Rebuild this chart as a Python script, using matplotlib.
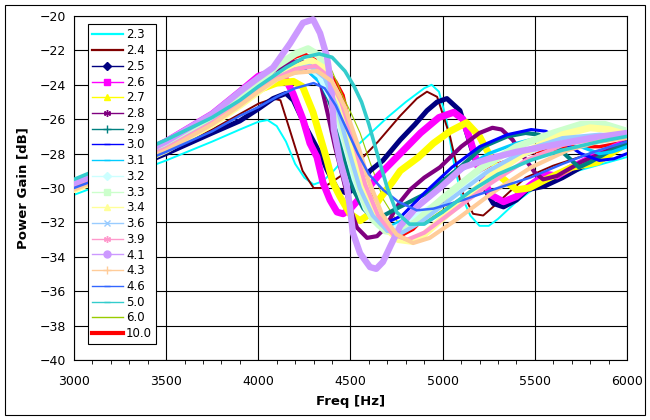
import matplotlib
matplotlib.use("Agg")
import matplotlib.pyplot as plt
from matplotlib.lines import Line2D
from matplotlib.patches import Rectangle

# ---- data (Freq [Hz], Power Gain [dB]) ----
f23 = [3000,3250,3500,3750,3900,4000,4050,4100,4150,4200,4250,4300,4350,4400,4500,4600,4700,4800,4900,4940,4980,5020,5060,5100,5150,5200,5250,5300,5400,5500,5600,5800,6000]
g23 = [-30.4,-29.4,-28.4,-27.3,-26.6,-26.15,-26.05,-26.4,-27.3,-28.6,-29.4,-29.8,-29.6,-29.1,-27.9,-26.9,-25.9,-25.0,-24.2,-24.0,-24.4,-26.0,-28.5,-30.4,-31.6,-32.2,-32.2,-31.8,-30.8,-30.0,-29.4,-28.8,-28.2]

f24 = [3000,3250,3500,3750,3900,4000,4080,4120,4170,4240,4300,4350,4420,4515,4650,4770,4860,4915,4970,5040,5110,5165,5220,5295,5365,5450,5600,5800,6000]
g24 = [-30.0,-29.0,-27.9,-26.6,-25.7,-25.1,-24.8,-24.9,-26.6,-29.0,-30.0,-30.0,-29.5,-28.8,-27.3,-25.8,-24.8,-24.4,-24.7,-27.0,-30.3,-31.5,-31.6,-30.9,-30.2,-29.4,-28.7,-28.0,-27.4]

f25 = [3000,3250,3500,3750,3900,4000,4080,4150,4190,4260,4335,4375,4430,4480,4535,4606,4676,4770,4850,4915,4970,5023,5094,5148,5220,5275,5330,5400,5460,5550,5650,5800,6000]
g25 = [-30.0,-29.1,-28.0,-26.8,-26.1,-25.4,-24.8,-24.5,-24.9,-26.5,-28.0,-29.0,-30.1,-30.3,-30.0,-29.0,-28.4,-27.2,-26.3,-25.5,-25.0,-24.8,-25.5,-27.4,-29.9,-30.9,-31.1,-30.7,-30.1,-29.9,-29.4,-28.5,-27.5]

f26 = [3000,3250,3500,3750,3900,4000,4060,4100,4150,4188,4242,4280,4318,4351,4389,4427,4460,4500,4550,4650,4770,4880,4980,5060,5110,5150,5200,5260,5330,5400,5480,5560,5620,5700,5850,6000]
g26 = [-29.7,-28.6,-27.3,-25.7,-24.4,-23.5,-23.3,-23.3,-23.7,-24.5,-26.0,-27.4,-28.2,-29.7,-30.7,-31.4,-31.5,-31.2,-30.6,-29.3,-28.0,-26.8,-25.9,-25.6,-26.0,-27.2,-29.0,-30.4,-30.8,-30.5,-29.8,-29.2,-29.3,-28.8,-28.0,-27.3]

f27 = [3000,3250,3500,3750,3900,4000,4100,4190,4240,4297,4335,4373,4405,4443,4497,4552,4606,4660,4731,4770,4870,4950,5040,5130,5200,5260,5320,5400,5470,5560,5700,5840,6000]
g27 = [-29.9,-28.8,-27.6,-26.1,-25.0,-24.3,-23.9,-23.8,-24.1,-25.6,-27.0,-28.4,-29.7,-30.5,-31.5,-31.9,-31.5,-30.6,-29.6,-29.0,-28.2,-27.4,-26.7,-26.2,-27.0,-28.2,-29.4,-30.1,-30.0,-29.5,-28.8,-28.5,-27.4]

f28 = [3000,3250,3500,3750,3900,4000,4100,4180,4230,4300,4340,4375,4416,4459,4497,4535,4590,4644,4690,4740,4770,4823,4900,4985,5100,5200,5270,5320,5380,5440,5500,5545,5620,5750,5880,6000]
g28 = [-29.8,-28.7,-27.5,-26.0,-24.9,-24.1,-23.2,-22.7,-22.6,-23.0,-24.0,-25.6,-27.6,-29.4,-31.1,-32.3,-32.9,-32.8,-32.3,-31.3,-30.8,-30.1,-29.4,-28.8,-27.6,-26.8,-26.5,-26.6,-27.2,-28.2,-29.1,-29.5,-29.3,-28.5,-27.9,-27.3]

f29 = [3000,3250,3500,3750,3900,4000,4100,4200,4260,4320,4380,4420,4470,4520,4570,4620,4680,4750,4840,4932,5010,5094,5220,5350,5450,5520,5600,5690,5740,5800,5900,6000]
g29 = [-29.6,-28.5,-27.4,-26.0,-25.0,-24.3,-23.5,-23.0,-22.9,-23.4,-24.8,-26.0,-28.5,-30.2,-31.2,-31.7,-31.6,-31.2,-30.7,-30.2,-29.5,-28.8,-27.6,-27.0,-26.8,-26.9,-27.4,-28.3,-28.8,-28.5,-27.9,-27.4]

f30 = [3000,3250,3500,3750,3900,4000,4100,4200,4260,4330,4400,4460,4520,4580,4640,4700,4780,4900,5050,5200,5350,5480,5560,5650,5750,5850,5930,6000]
g30 = [-29.8,-28.8,-27.6,-26.2,-25.1,-24.4,-23.6,-23.2,-23.1,-23.8,-25.0,-26.8,-28.8,-30.5,-31.6,-32.0,-31.6,-30.3,-28.8,-27.6,-26.9,-26.6,-26.7,-27.3,-28.0,-28.4,-28.3,-28.0]

f31 = [3000,3250,3500,3750,3900,4000,4100,4200,4270,4340,4410,4470,4530,4590,4650,4720,4800,4920,5080,5250,5400,5550,5650,5750,5850,5920,6000]
g31 = [-29.7,-28.7,-27.5,-26.1,-25.0,-24.3,-23.6,-23.3,-23.2,-23.9,-25.3,-27.2,-29.2,-30.8,-31.8,-32.2,-31.8,-30.6,-29.1,-28.0,-27.4,-27.0,-27.1,-27.6,-28.0,-27.9,-27.6]

f32 = [3000,3250,3500,3750,3900,4000,4100,4180,4250,4330,4400,4460,4520,4580,4650,4720,4800,4950,5100,5300,5500,5650,5750,5850,6000]
g32 = [-29.8,-28.7,-27.5,-26.0,-24.9,-24.1,-23.4,-23.0,-22.8,-23.5,-25.0,-27.2,-29.5,-31.2,-32.2,-32.4,-32.0,-31.0,-29.9,-28.7,-27.8,-27.2,-27.4,-27.3,-27.0]

f33 = [3000,3250,3500,3750,3900,4000,4100,4200,4270,4330,4390,4443,4500,4560,4620,4690,4760,4850,5000,5200,5400,5600,5750,5880,6000]
g33 = [-29.7,-28.6,-27.4,-25.9,-24.8,-23.9,-22.9,-22.2,-21.9,-22.3,-24.2,-26.0,-28.3,-30.4,-31.8,-32.5,-32.6,-32.0,-30.6,-28.9,-27.6,-26.8,-26.3,-26.3,-26.7]

f34 = [3000,3250,3500,3750,3900,4000,4100,4200,4290,4350,4420,4480,4540,4600,4680,4760,4830,4900,5050,5250,5450,5650,5800,5900,6000]
g34 = [-30.1,-29.0,-27.8,-26.3,-25.2,-24.4,-23.6,-23.0,-22.6,-23.0,-24.5,-26.4,-28.6,-30.5,-32.2,-33.0,-33.1,-32.7,-31.3,-29.4,-27.9,-26.9,-26.5,-26.6,-26.9]

f36 = [3000,3250,3500,3750,3900,4000,4100,4200,4280,4360,4430,4490,4550,4620,4700,4780,4880,5050,5250,5450,5650,5850,6000]
g36 = [-29.9,-28.8,-27.7,-26.2,-25.1,-24.3,-23.6,-23.1,-22.9,-23.6,-25.4,-27.8,-30.0,-31.6,-32.5,-32.6,-32.0,-30.6,-29.0,-27.8,-27.1,-26.9,-27.0]

f39 = [3000,3250,3500,3750,3900,4000,4100,4200,4310,4380,4450,4520,4580,4650,4730,4810,4900,5050,5250,5450,5650,5850,6000]
g39 = [-30.0,-28.9,-27.7,-26.2,-25.1,-24.3,-23.6,-23.1,-22.9,-23.5,-25.0,-27.4,-29.8,-31.6,-32.7,-33.0,-32.6,-31.4,-29.8,-28.4,-27.5,-27.1,-27.0]

f41 = [3000,3250,3500,3750,3900,4000,4080,4172,4242,4297,4335,4373,4395,4410,4443,4481,4497,4513,4552,4606,4640,4676,4720,4770,4860,4985,5110,5250,5400,5600,5800,6000]
g41 = [-29.7,-28.6,-27.3,-25.7,-24.4,-23.6,-23.0,-21.6,-20.4,-20.2,-21.0,-22.4,-24.0,-26.6,-28.4,-29.9,-31.1,-32.6,-33.8,-34.6,-34.7,-34.3,-33.3,-32.2,-31.1,-30.0,-28.8,-28.3,-27.9,-27.5,-27.1,-26.8]

f43 = [3000,3250,3500,3750,3900,4000,4100,4200,4320,4400,4470,4540,4600,4670,4750,4840,4930,5080,5280,5480,5680,5850,6000]
g43 = [-30.1,-29.0,-27.8,-26.3,-25.2,-24.4,-23.7,-23.3,-23.2,-23.8,-25.3,-27.5,-29.6,-31.5,-32.7,-33.2,-32.9,-31.8,-30.2,-28.8,-27.8,-27.3,-27.1]

f46 = [3000,3250,3500,3750,3900,4000,4100,4200,4300,4360,4420,4480,4540,4600,4676,4760,4860,4950,5110,5300,5474,5650,5820,6000]
g46 = [-30.0,-29.0,-27.9,-26.7,-25.8,-25.3,-24.7,-24.2,-23.9,-24.2,-25.2,-26.6,-28.0,-29.2,-30.1,-30.8,-31.3,-31.2,-30.7,-30.0,-29.4,-28.6,-27.9,-27.3]

f50 = [3000,3250,3500,3750,3900,4000,4150,4250,4330,4400,4470,4520,4560,4600,4650,4700,4750,4820,4900,5000,5150,5300,5474,5650,5850,6000]
g50 = [-29.5,-28.4,-27.2,-25.9,-24.9,-24.1,-23.0,-22.4,-22.2,-22.4,-23.2,-24.1,-25.0,-26.3,-28.2,-30.0,-31.4,-32.1,-32.1,-31.4,-30.2,-29.2,-28.4,-27.8,-27.3,-27.0]

f60 = [3000,3250,3500,3750,3900,4000,4150,4250,4340,4400,4460,4510,4552,4606,4680,4750,4820,4900,5050,5250,5450,5650,5850,6000]
g60 = [-29.9,-28.8,-27.6,-26.1,-25.0,-24.2,-23.3,-22.7,-22.6,-23.2,-24.7,-25.8,-26.8,-28.5,-30.7,-31.9,-32.3,-32.0,-30.9,-29.5,-28.5,-27.8,-27.4,-27.1]

f100 = [3000,3250,3500,3750,3900,4000,4100,4200,4250,4335,4420,4460,4500,4540,4600,4660,4714,4770,4840,4950,5100,5300,5500,5700,5850,6000]
g100 = [-29.8,-28.7,-27.5,-26.0,-24.9,-23.9,-23.0,-22.4,-22.2,-22.7,-23.8,-24.6,-26.5,-28.5,-30.2,-31.5,-32.5,-32.8,-32.4,-31.2,-29.8,-28.6,-27.9,-27.6,-27.6,-27.3]

labels = ["2.3","2.4","2.5","2.6","2.7","2.8","2.9","3.0","3.1","3.2","3.3",
          "3.4","3.6","3.9","4.1","4.3","4.6","5.0","6.0","10.0"]
freqs = [f23,f24,f25,f26,f27,f28,f29,f30,f31,f32,f33,f34,f36,f39,f41,f43,f46,f50,f60,f100]
gains = [g23,g24,g25,g26,g27,g28,g29,g30,g31,g32,g33,g34,g36,g39,g41,g43,g46,g50,g60,g100]

# Excel-like styles: colour, band width (pt), legend marker, marker size
colors = ["#00FFFF","#800000","#000080","#FF00FF","#FFFF00","#800080","#008080","#0000FF",
          "#00CCFF","#CCFFFF","#CCFFCC","#FFFF99","#99CCFF","#FF99CC","#CC99FF","#FFCC99",
          "#3366FF","#33CCCC","#99CC00","#FF0000"]
widths = [1.4,1.4,3.6,5.0,5.0,3.0,3.0,2.2,2.4,3.6,5.0,5.0,3.0,3.0,4.6,3.0,1.8,2.6,0.8,2.4]
markers = [None,None,"D","s","^",(6,2,0),"+","_","_","D","s","^","x",(6,2,0),"o","+","_","_",None,None]
msizes = [0,0,4,5,5,5,6,5,5,4,5,5,4,5,5,6,5,5,0,0]

fig = plt.figure(figsize=(6.5, 4.2), dpi=100)
fig.patches.append(Rectangle((0.008, 0.012), 0.984, 0.976, transform=fig.transFigure,
                             fill=False, edgecolor="black", linewidth=0.8))
ax = fig.add_axes([0.1138, 0.1429, 0.8508, 0.8190])

for i in range(len(labels)):
    z = 2 if markers[i] is None else 3
    if labels[i] == "10.0":
        z = 1.9
    ax.plot(freqs[i], gains[i], color=colors[i], linewidth=widths[i], zorder=z + i * 0.01,
            solid_joinstyle="round", solid_capstyle="round")

ax.set_xlim(3000, 6000)
ax.set_ylim(-40, -20)
ax.set_xticks(range(3000, 6001, 500))
ax.set_xticks(range(3000, 6001, 100), minor=True)
ax.set_yticks(range(-40, -19, 2))
ax.grid(True, which="major", color="black", linewidth=0.8)
ax.tick_params(which="major", length=0, labelsize=9, pad=6)
ax.tick_params(axis="x", which="major", pad=11)
ax.tick_params(axis="x", which="minor", length=3, direction="out", width=0.6)
for s in ax.spines.values():
    s.set_linewidth(0.8)
ax.set_xlabel("Freq [Hz]", fontsize=9.5, fontweight="bold", labelpad=5)
ax.set_ylabel("Power Gain [dB]", fontsize=9.5, fontweight="bold", labelpad=7)

handles = []
for i in range(len(labels)):
    lw = 1.0
    if markers[i] is None:
        lw = 1.6 if labels[i] != "6.0" else 1.0
        if labels[i] == "10.0":
            lw = 3.0
    handles.append(Line2D([0], [0], color=colors[i], linewidth=lw, marker=markers[i],
                          markersize=msizes[i], markeredgecolor=colors[i],
                          markerfacecolor=colors[i]))
leg = fig.legend(handles, labels, loc="upper left", bbox_to_anchor=(0.135, 0.942),
                 fontsize=8.5, frameon=True, fancybox=False, edgecolor="black",
                 framealpha=1, handlelength=2.6, handletextpad=0.3,
                 labelspacing=0.23, borderpad=0.35, borderaxespad=0)
leg.get_frame().set_linewidth(0.8)
leg.set_zorder(10)

fig.savefig("out.png", dpi=100)
